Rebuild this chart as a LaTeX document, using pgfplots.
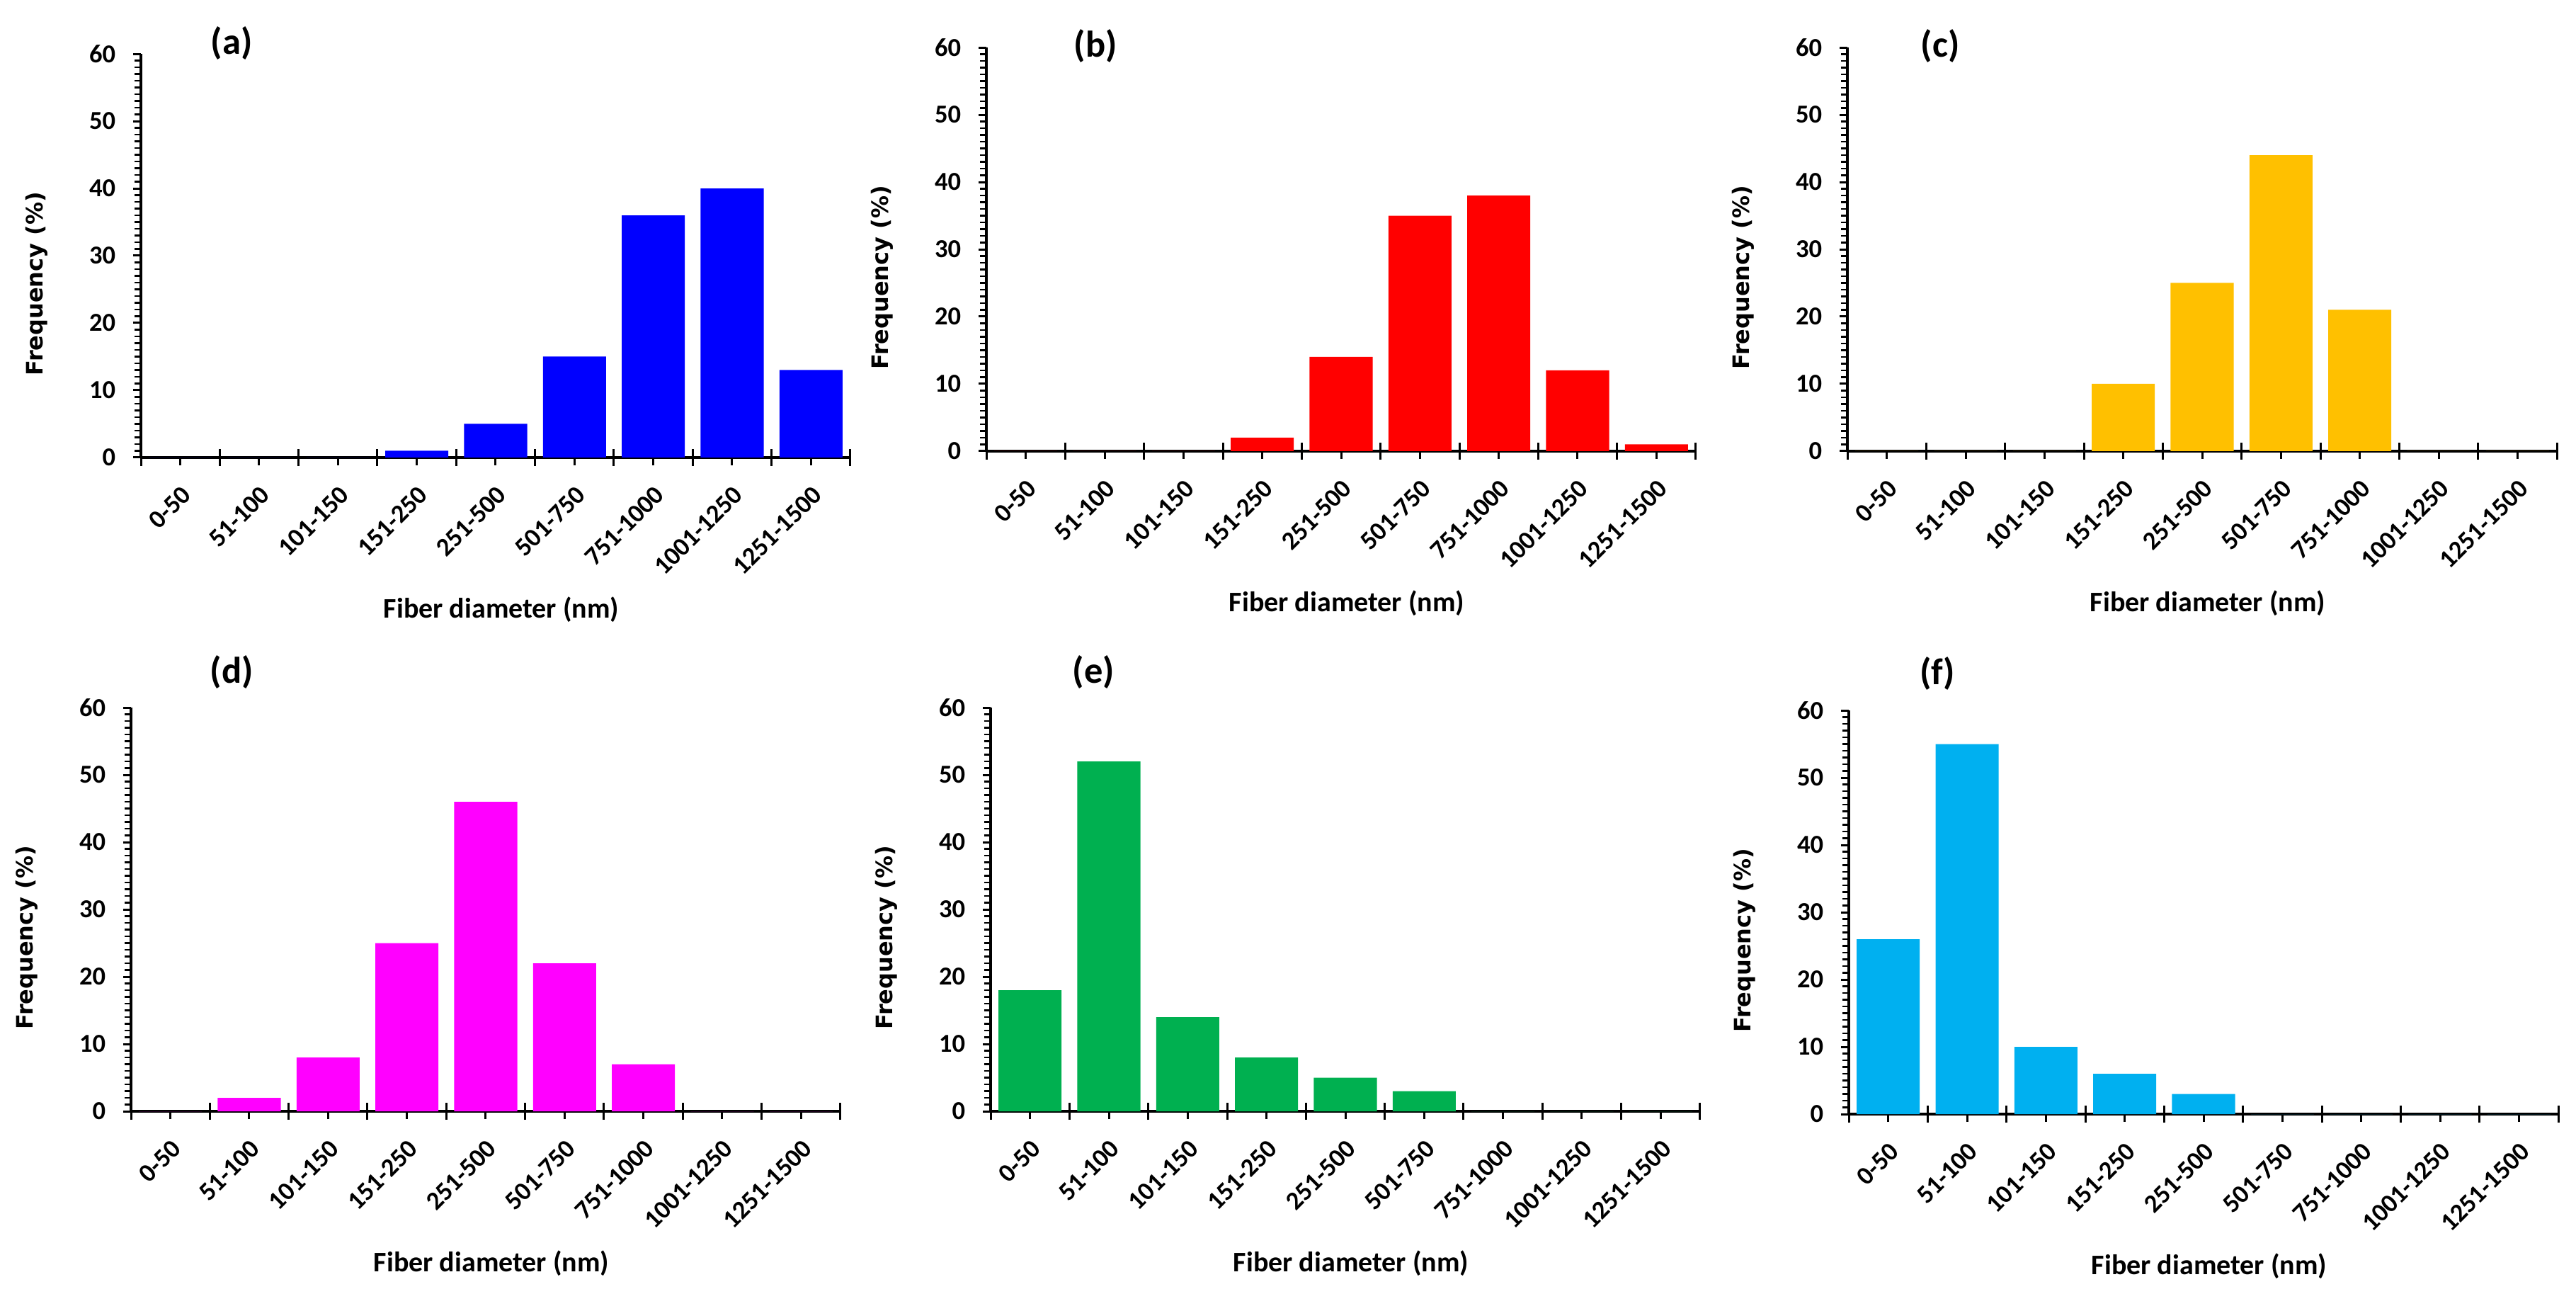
\documentclass[border=0pt]{standalone}
\usepackage{fontspec}
\setmainfont{Carlito}
\newfontfamily\verd{DejaVu Sans}
\usepackage{pgfplots}
\pgfplotsset{compat=1.18}
\definecolor{cA}{HTML}{0000FF}
\definecolor{cB}{HTML}{FF0000}
\definecolor{cC}{HTML}{FFC000}
\definecolor{cD}{HTML}{FF00FF}
\definecolor{cE}{HTML}{00B050}
\definecolor{cF}{HTML}{00B0F0}
\tikzset{lab/.style={font=\bfseries\fontsize{10.5}{12}\selectfont, anchor=center}}
\pgfplotsset{
  hist/.style={
    scale only axis, width=200.4pt, height=114pt,
    anchor=south west,
    axis lines=left, axis line style={-, line width=0.7pt},
    xmin=-0.5, xmax=8.5, ymin=0, ymax=60,
    ytick={0,10,...,60}, minor y tick num=9,
    xtick={0,...,8},
    xticklabels={0-50,51-100,101-150,151-250,251-500,501-750,751-1000,1001-1250,1251-1500},
    tick align=outside,
    major tick length=2.2pt, minor tick length=1.8pt,
    every tick/.style={black, line width=0.6pt},
    minor tick style={black, line width=0.5pt},
    extra x ticks={-0.5,0.5,...,8.5}, extra x tick labels={},
    extra x tick style={xtick align=center, major tick length=4.8pt},
    /pgf/number format/assume math mode=true,
    ticklabel style={font=\bfseries\fontsize{7.3}{8.6}\selectfont},
    xticklabel style={rotate=45, anchor=north east, inner sep=0pt},
    xticklabel shift=5.2pt,
    yticklabel style={inner sep=0pt},
    yticklabel shift=4.8pt,
    xlabel={Fiber diameter (nm)},
    xlabel style={at={(axis description cs:0.508,0)}, anchor=center, yshift=-43pt, font=\bfseries\fontsize{8}{10}\selectfont},
    ylabel={Frequency (\%)},
    ylabel style={at={(axis description cs:-0.1467,0.43)}, anchor=center, font=\verd\bfseries\fontsize{6.4}{8}\selectfont},
    clip=false,
  },
}
\begin{document}
\begin{tikzpicture}
\path[use as bounding box] (0,0) rectangle (727.6pt,-365.4pt);
% (a)
\begin{axis}[hist, at={(39.8pt,-129.2pt)}]
\addplot[ybar, bar width=0.8, fill=cA, draw=none] coordinates {(0,0) (1,0) (2,0) (3,1) (4,5) (5,15) (6,36) (7,40) (8,13)};
\node[lab] at (axis description cs:0.128,1.026) {(a)};
\end{axis}
% (b)
\begin{axis}[hist, at={(278.6pt,-127.4pt)}]
\addplot[ybar, bar width=0.8, fill=cB, draw=none] coordinates {(0,0) (1,0) (2,0) (3,2) (4,14) (5,35) (6,38) (7,12) (8,1)};
\node[lab] at (axis description cs:0.154,1.003) {(b)};
\end{axis}
% (c)
\begin{axis}[hist, at={(521.8pt,-127.4pt)}]
\addplot[ybar, bar width=0.8, fill=cC, draw=none] coordinates {(0,0) (1,0) (2,0) (3,10) (4,25) (5,44) (6,21) (7,0) (8,0)};
\node[lab] at (axis description cs:0.131,1.003) {(c)};
\end{axis}
% (d)
\begin{axis}[hist, at={(37pt,-313.8pt)}]
\addplot[ybar, bar width=0.8, fill=cD, draw=none] coordinates {(0,0) (1,2) (2,8) (3,25) (4,46) (5,22) (6,7) (7,0) (8,0)};
\node[lab] at (axis description cs:0.142,1.088) {(d)};
\end{axis}
% (e)
\begin{axis}[hist, at={(279.8pt,-313.8pt)}]
\addplot[ybar, bar width=0.8, fill=cE, draw=none] coordinates {(0,18) (1,52) (2,14) (3,8) (4,5) (5,3) (6,0) (7,0) (8,0)};
\node[lab] at (axis description cs:0.145,1.088) {(e)};
\end{axis}
% (f)
\begin{axis}[hist, at={(522.2pt,-314.6pt)}]
\addplot[ybar, bar width=0.8, fill=cF, draw=none] coordinates {(0,26) (1,55) (2,10) (3,6) (4,3) (5,0) (6,0) (7,0) (8,0)};
\node[lab] at (axis description cs:0.125,1.091) {(f)};
\end{axis}
\end{tikzpicture}
\end{document}
